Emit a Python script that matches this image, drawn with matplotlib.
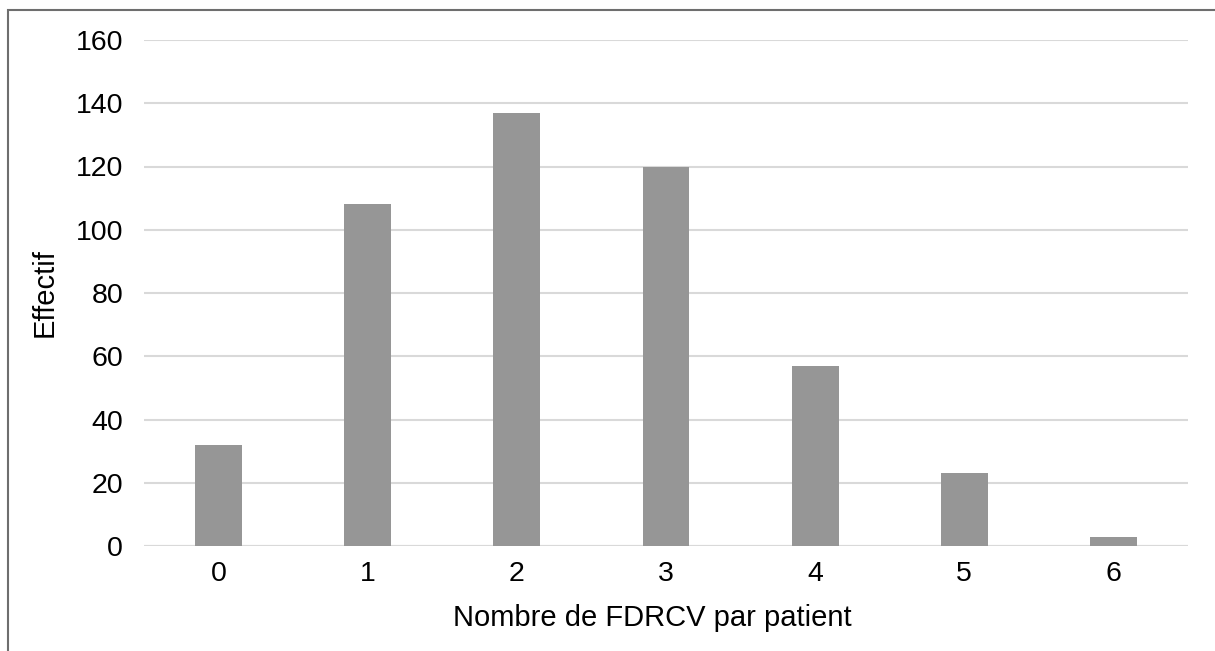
import matplotlib.pyplot as plt
from matplotlib.patches import Rectangle

plt.rcParams['font.family'] = ['Liberation Sans', 'DejaVu Sans']

# nombre de FDRCV par patient et effectifs
categories = ['0', '1', '2', '3', '4', '5', '6']
effectifs = [32, 108, 137, 120, 57, 23, 3]

fig = plt.figure(figsize=(12.15, 6.51), dpi=100)
ax = fig.add_axes([144 / 1215, 1 - 546 / 651, (1188 - 144) / 1215, (546 - 40) / 651])

x = range(len(categories))
ax.bar(x, effectifs, width=0.315, color='#969696', zorder=3)

ax.set_xlim(-0.5, len(categories) - 0.5)
ax.set_ylim(0, 160)
ax.set_yticks(range(0, 161, 20))
ax.set_xticks(list(x))
ax.set_xticklabels(categories)
ax.grid(axis='y', color='#d9d9d9', linewidth=1.5, zorder=0)
ax.tick_params(length=0, labelsize=20.5)
ax.tick_params(axis='y', pad=15)
ax.tick_params(axis='x', pad=11)
for s in ax.spines.values():
    s.set_visible(False)
ax.axhline(0, color='#d9d9d9', linewidth=1.5, zorder=2)

ax.set_xlabel('Nombre de FDRCV par patient', fontsize=21, labelpad=12)
ax.xaxis.label.set_x(0.4866)
ax.set_ylabel('Effectif', fontsize=21, labelpad=12)

# cadre autour du graphique
fig.patches.append(Rectangle((8 / 1215, -0.1), 1.2, 1 - 10 / 651 + 0.1,
                             transform=fig.transFigure, fill=False,
                             edgecolor='#6e6e6e', linewidth=1.5))

fig.savefig('out.png', dpi=100)
